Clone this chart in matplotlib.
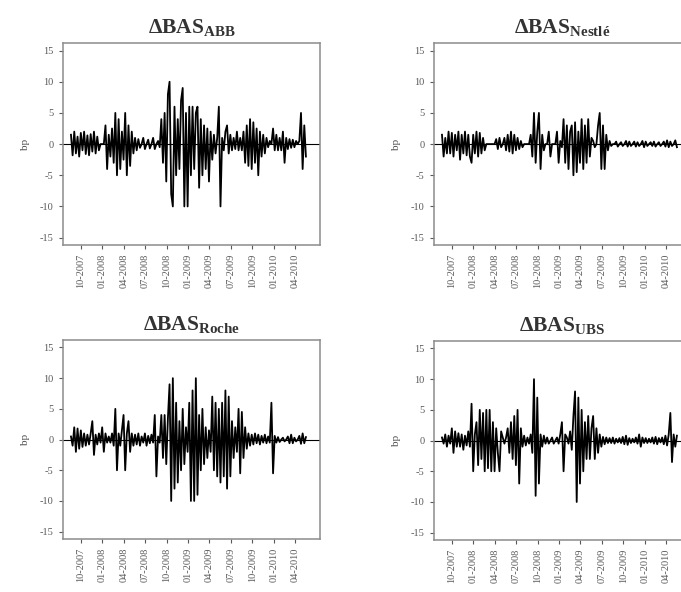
import matplotlib
matplotlib.use('Agg')
import matplotlib.pyplot as plt
import matplotlib.dates as mdates
import numpy as np
import pandas as pd

plt.rcParams['font.family'] = ['Liberation Serif', 'DejaVu Serif']
plt.rcParams['mathtext.fontset'] = 'custom'
plt.rcParams['mathtext.rm'] = 'Liberation Serif'
plt.rcParams['mathtext.bf'] = 'Liberation Serif:bold'
plt.rcParams['mathtext.it'] = 'Liberation Serif:italic'
plt.rcParams['axes.unicode_minus'] = False

# weekly observations, 2007-08-20 .. 2010-05-17 (bp changes)
dates = pd.date_range('2007-08-20', periods=144, freq='7D')

abb = [1.5, -1.8, 2, -1.5, 1.2, -2, 1.8, -1, 2, -1.6, 1.4, -1.8, 1.6, -1.2, 2, -1.5, 1.2, -1,
       0, 0, 0,
       3, -4, 1.5, -2, 2.5, -3, 5, -5, 4, -4, 2, -2.5, 5, -5, 3, -3.5, 2, -1.5, 1,
       -1, 0.8, -0.6, 0, 1, -0.8, 0, 0.7, -0.7, 0, 1, -0.8, 0, 0.5, -0.5,
       4, -3, 5, -6, 8, 10, -8, -10, 6, -5, 4, -4, 7, 9, -10, 5, -10, 6, -5, 6,
       -4, 5, 6, -7, 4, -5, 3, -4, 2.5, -6, 2, -2.5, 1.5, -1.5, 1,
       6, -10,
       1, -1, 2, 3, -1.5, 1.5, -1, 1, -0.8, 2, -1, 1, -1,
       2, -3, 3, -3.5, 4, -4, 3.5, -3, 2.5, -5, 2, -2, 1.5, -1.5, 1,
       -0.5, 0.5, 0,
       2.5, -1, 1.5, -1, 1, -1, 2, -3, 1, -0.8, 0.8, -0.6, 0.7, -0.5, 0.5,
       0, 0.5,
       5, -4, 3, -2]

nestle = [1.5, -2, 1, -1.5, 2, -1.5, 1.8, -2, 1.5, -1, 2, -2.5, 1.5, -1.5, 2, -1.8, 1.5, -2,
          -3, 1.5, -1.5, 2, -2, 1.8, -1.5, 1, -1,
          0, 0, 0, 0, 0, 0,
          0.8, -0.8, 1, -0.5, 0, 1, -1, 1.5, -1.2, 2, -1.5, 1.5, -1, 1, -0.8, 0.5, -0.5, 0, 0,
          0, 0,
          1.5, -2, 5, -3, 2, 5, -4, 1.5, -1,
          0, 0,
          2, -2,
          0, 0, 0,
          2, -3,
          0.5, -0.5,
          4, -3, 3, -4, 2, 3, -5, 3.5, -4.5, 2, -3, 4, -4, 3, -3, 4, -2, 1,
          0.5, -0.5, 0,
          3, 5, -4, 3, -4, 1.5, -1,
          0.5, -0.3, 0, 0, 0.4, -0.4, 0, 0.3, -0.3, 0,
          0.5, -0.4, 0.4, -0.3, 0, 0.4, -0.4, 0.3, -0.3, 0,
          0.5, -0.5, 0.4, -0.3, 0, 0.3, -0.3, 0.4, -0.4, 0,
          0.3, -0.3, 0, 0.4, -0.4, 0.6, -0.5, 0.4, -0.3, 0,
          0.6, -0.5]

roche = [0.5, -1, 2, -2, 1.8, -1.5, 1.5, -1.2, 1, -1, 0.8, -0.8, 1, 3, -2.5, 0.8, -0.8, 1, -0.5,
         2, -2, 1, -0.5, 0.5, -0.5, 1, -1, 5, -5, 1, -1, 1.5, 4, -5, 1, 3, -2, 1, -1, 0.8,
         -0.8, 1, -1, 0.5, -0.5, 1, -1, 0.6, -0.6, 0.8, -0.5,
         4, -6, 0.5, -0.5, 4, -3, 4, -4, 3.5, 9, -10, 10, -8, 6, -7, 3, -5, 5, -4, 2, -2,
         6, -10, 8, -10, 10, -9, 4, -5, 5, -4, 2, -3, 1.5, -2,
         7, -5, 6, -6, 5, -7, 6, -6, 8, -8, 7, -6, 3, -3, 2, -2,
         5, -5.5, 4.5, -3, 2, -1.5,
         1, -1, 0.8, -0.8, 1, -0.6, 0.8, -0.8, 0.6, -0.5, 0.8, -0.6, 0.5, -0.5,
         6, -5.5,
         0.6, -0.5, 0.4, -0.4, 0, 0.3, -0.3, 0, 0.5, -0.6, 0.8, -0.6, 0.3, -0.3, 0, 0.6,
         -0.7, 1, -0.6, 0.4]

ubs = [0.5, -0.5, 1, -1, 0.8, -0.5, 2, -2, 1.5, -1, 1.2, -1, 1, -1.5, 0.8, -0.8, 1.5,
       -1, 6, -5, 1,
       3, -4, 5, -3, 4.5, -5, 5, -4.5, 5, -5, 3, -5, 2, -2, -5, 1.5,
       0.5, -0.5, 0.5,
       2, -2, 3, -3, 4, -4, 5, -7, 2,
       -1, 0.8, -0.8, 0.5, -0.5, 1,
       -2, 10, -9, 7, -7,
       1, -1, 0.8, -0.5, 0.5, -0.5, 0, 0.5, -0.5, 0, 0.5, -0.5, 1,
       3, -5, 1,
       0.5, -0.5, 1.5, -1.5,
       4, 8, -10, 7, -7, 5, -5, 3, -3, 4, -3, 2, 4, -3, 2, -2, 1, -1,
       0.6, -0.6, 0.5, -0.4, 0.4, -0.4, 0.5, -0.5, 0.3, -0.3,
       0.4, -0.4, 0.6, -0.6, 0.8, -0.7, 0.4, -0.4, 0.3, -0.3,
       0.5, -0.5, 1, -1, 0.5, -0.4, 0.4, -0.4, 0.3, -0.3,
       0.5, -0.5, 0.6, -0.6, 0.4, -0.3, 0.5, -0.6, 0.8, -0.8,
       1,
       4.5, -3.5, 1, -1, 0.8]

series = [('ABB', abb), ('Nestlé', nestle), ('Roche', roche), ('UBS', ubs)]
tick_dates = pd.date_range('2007-10-01', '2010-04-01', freq='QS')
yticks = [-15, -10, -5, 0, 5, 10, 15]

fig = plt.figure(figsize=(6.81, 5.92), dpi=100)
positions = [[0.0925, 0.586, 0.3774, 0.3412],
             [0.6373, 0.586, 0.3774, 0.3412],
             [0.0925, 0.0895, 0.3774, 0.336],
             [0.6373, 0.0878, 0.3774, 0.336]]

for (name, vals), pos in zip(series, positions):
    ax = fig.add_axes(pos)
    ax.axhline(0, color='black', lw=0.8)
    ax.plot(dates, np.array(vals), color='black', lw=1.3)
    ax.set_xlim(pd.Timestamp('2007-07-17'), pd.Timestamp('2010-07-16'))
    ax.set_ylim(-16.2, 16.2)
    ax.set_yticks(yticks)
    ax.set_xticks(tick_dates)
    ax.xaxis.set_major_formatter(mdates.DateFormatter('%m-%Y'))
    ax.tick_params(axis='x', rotation=90, labelsize=7.5, colors='0.35', length=3, pad=3)
    ax.tick_params(axis='y', labelsize=7.5, colors='0.35', length=3, pad=4)
    for sp in ax.spines.values():
        sp.set_color('0.55')
        sp.set_linewidth(1.1)
    ax.set_ylabel('bp', fontsize=8, color='0.3', labelpad=7)
    ax.set_title(r'$\mathbf{\Delta BAS}_{\mathbf{%s}}$' % name, fontsize=15.5,
                 color='0.2', pad=7)

fig.savefig('out.png', dpi=100)
